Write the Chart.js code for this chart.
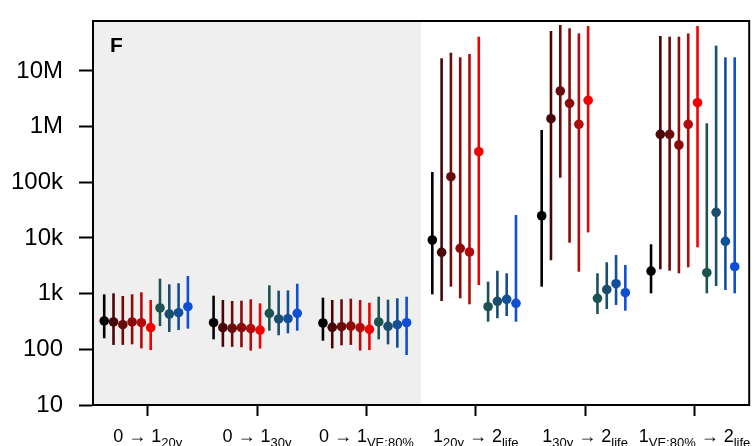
<!DOCTYPE html>
<html>
<head>
<meta charset="utf-8">
<script src="https://cdn.jsdelivr.net/npm/chart.js@4/dist/chart.umd.min.js"></script>
<style>
  html, body { margin: 0; padding: 0; background: #fff; }
  #wrap { width: 754px; height: 446px; }
</style>
</head>
<body>
<div id="wrap"><canvas id="chart" width="754" height="446"></canvas></div>
<script>
// categories (label pieces: [text, isSubscript])
const categories = [
    [['0 \u2192 1', 0], ['20y', 1]],
    [['0 \u2192 1', 0], ['30y', 1]],
    [['0 \u2192 1', 0], ['VE:80%', 1]],
    [['1', 0], ['20y', 1], [' \u2192 2', 0], ['life', 1]],
    [['1', 0], ['30y', 1], [' \u2192 2', 0], ['life', 1]],
    [['1', 0], ['VE:80%', 1], [' \u2192 2', 0], ['life', 1]]
];

const yTicks = [10, 100, 1e3, 1e4, 1e5, 1e6, 1e7];
const yTickLabels = ['10', '100', '1k', '10k', '100k', '1M', '10M'];

const seriesColors = ['#000000', '#4a0606', '#6b0b0b', '#8c0a0a', '#b30b0b', '#f20000',
                      '#1d5252', '#1b4e6e', '#134e98', '#0f4fd6'];

// one row per series, one value per category
const seriesMid = [
    [323, 301, 297, 9200, 25100, 2550],
    [310, 245, 249, 5530, 1390000, 728000],
    [277, 239, 255, 126000, 4370000, 728000],
    [310, 245, 262, 6530, 2620000, 468000],
    [301, 235, 245, 5600, 1100000, 1100000],
    [245, 222, 229, 355000, 2970000, 2690000],
    [553, 444, 310, 583, 826, 2380],
    [431, 351, 259, 729, 1180, 28900],
    [455, 355, 277, 792, 1510, 8730],
    [583, 444, 301, 671, 1040, 3050]
];
const seriesLow = [
    [158, 151, 143, 973, 1334, 1015],
    [120, 111, 104, 738, 3975, 2742],
    [120, 111, 118, 1334, 121000, 2583],
    [123, 109, 120, 826, 8225, 2323],
    [104, 95, 95, 644, 2478, 2978],
    [97, 103, 97, 1432, 12600, 6808],
    [262, 216, 151, 313, 431, 1015],
    [205, 179, 123, 361, 530, 1374],
    [222, 194, 107, 397, 626, 1164],
    [235, 216, 79, 313, 494, 1015]
];
const seriesHigh = [
    [973, 919, 846, 153000, 871000, 7709],
    [1015, 769, 769, 16900000, 52300000, 42500000],
    [908, 738, 792, 21300000, 67000000, 41300000],
    [973, 748, 812, 17600000, 58500000, 41300000],
    [1058, 792, 769, 20200000, 47300000, 47300000],
    [769, 671, 688, 41300000, 64300000, 64300000],
    [1857, 1413, 882, 1641, 2323, 1150000],
    [1473, 1130, 779, 2583, 3660, 28500000],
    [1535, 1148, 826, 2323, 4946, 17600000],
    [2075, 1510, 882, 25900, 3273, 17600000]
];

const FONT = '"Liberation Sans", Arial, sans-serif';
const dodge = s => (s - 4.5) * 0.085 - 0.015;

const datasets = seriesMid.map((row, s) => ({
    data: row.map((v, g) => ({ x: g + dodge(s), y: v, lo: seriesLow[s][g], hi: seriesHigh[s][g] })),
    backgroundColor: seriesColors[s],
    borderColor: seriesColors[s],
    pointRadius: 4.8,
    pointBorderWidth: 0,
    showLine: false
}));

const panelPlugin = {
    id: 'panel',
    beforeDraw(chart) {
        const { ctx, chartArea: a, scales } = chart;
        const xSplit = scales.x.getPixelForValue(2.5);
        ctx.save();
        ctx.fillStyle = '#efefef';
        ctx.fillRect(a.left, a.top, xSplit - a.left, a.bottom - a.top);
        ctx.restore();
    },
    beforeDatasetsDraw(chart) {
        const { ctx, scales } = chart;
        ctx.save();
        ctx.lineWidth = 2.6;
        chart.data.datasets.forEach(ds => {
            ctx.strokeStyle = ds.borderColor;
            ds.data.forEach(p => {
                const x = scales.x.getPixelForValue(p.x);
                ctx.beginPath();
                ctx.moveTo(x, scales.y.getPixelForValue(p.lo));
                ctx.lineTo(x, scales.y.getPixelForValue(p.hi));
                ctx.stroke();
            });
        });
        ctx.restore();
    },
    afterDraw(chart) {
        const { ctx, chartArea: a, scales } = chart;
        ctx.save();
        // frame
        ctx.strokeStyle = '#000';
        ctx.lineWidth = 2;
        ctx.strokeRect(a.left, a.top, a.right - a.left, a.bottom - a.top);

        // panel letter
        ctx.fillStyle = '#000';
        ctx.font = 'bold 21px ' + FONT;
        ctx.textBaseline = 'alphabetic';
        ctx.fillText('F', a.left + 17, a.top + 31);

        // x labels with subscripts
        const mainFont = '18px ' + FONT, subFont = '13px ' + FONT;
        categories.forEach((parts, g) => {
            let w = 0;
            parts.forEach(([t, sub]) => { ctx.font = sub ? subFont : mainFont; w += ctx.measureText(t).width; });
            let x = scales.x.getPixelForValue(g) - w / 2;
            parts.forEach(([t, sub]) => {
                ctx.font = sub ? subFont : mainFont;
                ctx.fillText(t, x, sub ? 447 : 442);
                x += ctx.measureText(t).width;
            });
        });
        ctx.restore();
    }
};

new Chart(document.getElementById('chart'), {
    type: 'scatter',
    data: { datasets },
    plugins: [panelPlugin],
    options: {
        responsive: false,
        animation: false,
        events: [],
        layout: { padding: { top: 21, right: 2, left: 0, bottom: 0 } },
        plugins: { legend: { display: false }, tooltip: { enabled: false } },
        scales: {
            x: {
                type: 'linear',
                min: -0.5,
                max: 5.5,
                afterBuildTicks: sc => { sc.ticks = categories.map((c, i) => ({ value: i })); },
                afterFit: sc => { sc.height = 41; sc.paddingLeft = 0; sc.paddingRight = 0; },
                ticks: { callback: () => '', font: { size: 1 } },
                grid: { drawOnChartArea: false, tickLength: 11, tickColor: '#000', tickWidth: 2 },
                border: { color: '#000', width: 2 }
            },
            y: {
                type: 'logarithmic',
                min: 10,
                max: 7.9e7,
                afterBuildTicks: sc => { sc.ticks = yTicks.map(v => ({ value: v })); },
                afterFit: sc => { sc.width = 93; sc.paddingTop = 0; sc.paddingBottom = 0; },
                ticks: {
                    callback: v => yTickLabels[yTicks.indexOf(v)],
                    color: '#000',
                    padding: 16,
                    font: { family: FONT, size: 24 }
                },
                grid: { drawOnChartArea: false, tickLength: 14, tickColor: '#000', tickWidth: 2 },
                border: { color: '#000', width: 2 }
            }
        }
    }
});
</script>
</body>
</html>
